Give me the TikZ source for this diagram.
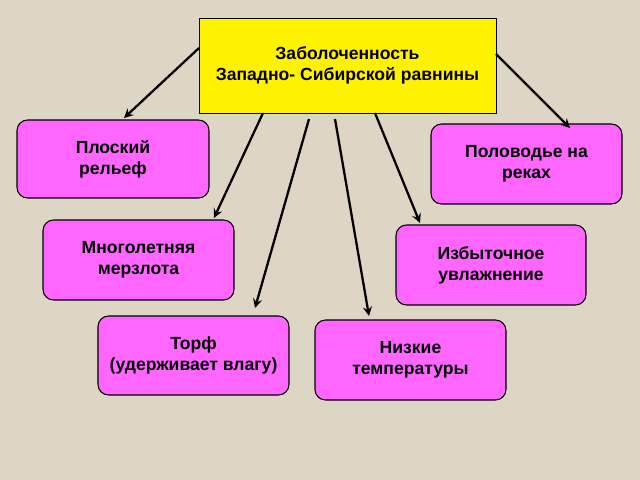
\documentclass[tikz,border=0pt]{standalone}
\usepackage{fontspec}
\setmainfont{Liberation Sans}
\begin{document}
\begin{tikzpicture}[x=0.02cm,y=-0.02cm,
 box/.style={draw=black,line width=0.6pt,fill={rgb,255:red,255;green,102;blue,255},rounded corners=6pt,font=\bfseries\fontsize{10}{12}\selectfont,align=center},
 arr/.style={-stealth,line width=1.3pt}]
\fill[fill={rgb,255:red,222;green,214;blue,196}] (0,0) rectangle (640,480);
\useasboundingbox (0,0) rectangle (640,480);
\node[draw=black,fill=yellow,minimum width=297*0.02cm,minimum height=95*0.02cm,font=\bfseries\fontsize{10}{12}\selectfont,align=center] (top) at (347.5,65.5) {Заболоченность\\Западно- Сибирской равнины};
\node[box,minimum width=192*0.02cm,minimum height=78*0.02cm] (a) at (113,159) {Плоский\\рельеф};
\node[box,minimum width=191*0.02cm,minimum height=80*0.02cm] (b) at (526.5,164) {Половодье на\\реках};
\node[box,minimum width=191*0.02cm,minimum height=80*0.02cm] (c) at (138.5,260) {Многолетняя\\мерзлота};
\node[box,minimum width=190*0.02cm,minimum height=80*0.02cm] (d) at (491,265) {Избыточное\\увлажнение};
\node[box,minimum width=191*0.02cm,minimum height=79*0.02cm] (e) at (193.5,355.5) {Торф\\(удерживает влагу)};
\node[box,minimum width=191*0.02cm,minimum height=80*0.02cm] (f) at (410.5,360) {Низкие\\температуры};
\coordinate (s1) at (199,48); \coordinate (t1) at (124,118);
\coordinate (s2) at (496,54); \coordinate (t2) at (570,128);
\coordinate (s3) at (263,113); \coordinate (t3) at (214,218);
\coordinate (s4) at (309,119); \coordinate (t4) at (255,308);
\coordinate (s5) at (335,119); \coordinate (t5) at (369,316);
\coordinate (s6) at (375,113); \coordinate (t6) at (420,223);
\foreach \i in {1,...,6} \draw[arr] (s\i) -- (t\i);
\end{tikzpicture}
\end{document}
